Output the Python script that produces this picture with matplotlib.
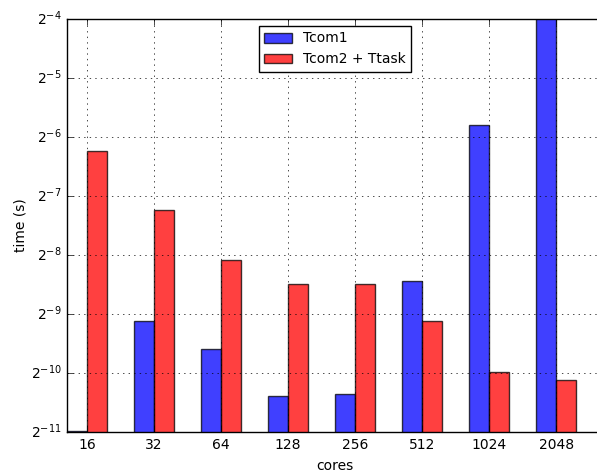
import numpy as np
import matplotlib
matplotlib.use('Agg')
import matplotlib.pyplot as plt
from matplotlib.ticker import NullLocator

# cores on the x axis, times in seconds
cores = ['16', '32', '64', '128', '256', '512', '1024', '2048']
tcom1 = [0.000497, 0.00179, 0.00130, 0.000745, 0.000761, 0.00288, 0.0180, 0.067]
tcom2_ttask = [0.0132, 0.00661, 0.00369, 0.00278, 0.00278, 0.00179, 0.00099, 0.000897]

plt.style.use('classic')
plt.rcParams['mathtext.fontset'] = 'dejavusans'
plt.rcParams['font.family'] = 'DejaVu Sans'
plt.rcParams['axes.unicode_minus'] = False

fig = plt.figure(figsize=(5.97, 4.75), dpi=100, facecolor='white')
ax = fig.add_axes([0.1122, 0.0905, 0.898, 0.8695])

x = np.arange(len(cores))
width = 0.3
ax.bar(x, tcom1, width, color='b', alpha=0.75, align='edge', label='Tcom1')
ax.bar(x + width, tcom2_ttask, width, color='r', alpha=0.75, align='edge', label='Tcom2 + Ttask')

ax.set_yscale('log', base=2)
ax.set_ylim(2**-11, 2**-4)
ax.yaxis.set_minor_locator(NullLocator())
ax.set_xlim(0, len(cores))
ax.set_xticks(x + width)
ax.set_xticklabels(cores)
ax.tick_params(labelsize=10)

ax.set_xlabel('cores', fontsize=10)
ax.set_ylabel('time (s)', fontsize=10)
ax.yaxis.set_label_coords(-0.074, 0.5)
ax.grid(True)
ax.legend(loc='upper center', fontsize=10)

plt.savefig('out.png', dpi=100, facecolor='white')
